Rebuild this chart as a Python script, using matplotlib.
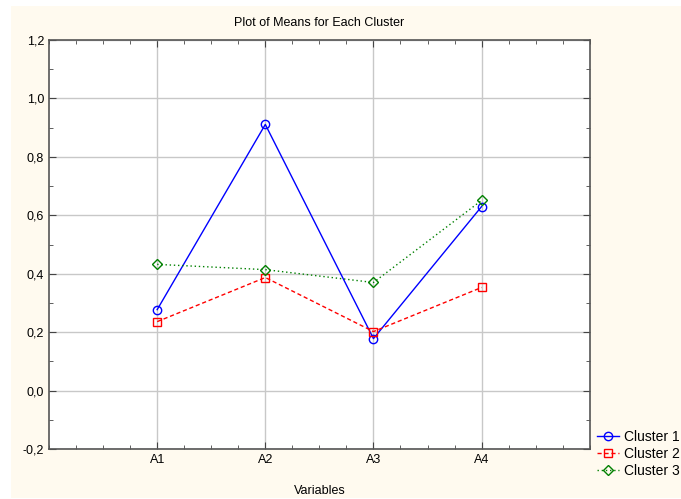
import numpy as np
import matplotlib.pyplot as plt
from matplotlib.patches import Rectangle
from matplotlib.ticker import MultipleLocator, FuncFormatter

plt.rcParams['font.family'] = ['Liberation Sans', 'DejaVu Sans']
plt.rcParams['font.size'] = 9

variables = ['A1', 'A2', 'A3', 'A4']
cluster1 = [0.277, 0.911, 0.178, 0.630]
cluster2 = [0.236, 0.387, 0.202, 0.353]
cluster3 = [0.432, 0.414, 0.370, 0.651]

bg = '#FFFAEF'
W, H = 681, 499
fig = plt.figure(figsize=(W / 100, H / 100), dpi=100, facecolor='white')
# cream panel with thin white margin on the left/top
fig.patches.append(Rectangle((11 / W, 1 / H), 1 - 11 / W, (H - 7) / H,
                             transform=fig.transFigure, facecolor=bg, edgecolor='none', zorder=-10))

ax = fig.add_axes([0.072, 0.1002, 0.794, 0.8196])
ax.set_facecolor('white')

x = np.arange(1, len(variables) + 1)
ax.plot(x, cluster1, color='#0000FF', lw=1, marker='o', ms=6, mfc='none', mec='#0000FF', label='Cluster 1')
ax.plot(x, cluster2, color='#FF0000', lw=1, ls=(0, (3, 2)), marker='s', ms=6, mfc='none', mec='#FF0000', label='Cluster 2')
ax.plot(x, cluster3, color='#008000', lw=1, ls=(0, (1, 2)), marker='D', ms=5, mfc='none', mec='#008000', label='Cluster 3')

ax.set_xlim(0, 5)
ax.set_ylim(-0.2, 1.2)
ax.set_xticks(x)
ax.set_xticklabels(variables)
ax.xaxis.set_minor_locator(MultipleLocator(0.25))
ax.yaxis.set_major_locator(MultipleLocator(0.2))
ax.yaxis.set_minor_locator(MultipleLocator(0.1))
ax.yaxis.set_major_formatter(FuncFormatter(lambda v, p: ('%.1f' % v).replace('.', ',')))
ax.grid(True, which='major', color='#C8C8C8', lw=1)
ax.set_axisbelow(True)
ax.tick_params(which='both', direction='in', top=True, right=True, labelsize=9, color='#444444')
ax.tick_params(which='major', length=5)
ax.tick_params(which='minor', length=3)
for s in ax.spines.values():
    s.set_color('#555555')
    s.set_linewidth(1.2)

ax.set_title('Plot of Means for Each Cluster', fontsize=9, pad=10)
ax.set_xlabel('Variables', fontsize=9, labelpad=14)

leg = ax.legend(loc='center left', bbox_to_anchor=(1.013, -0.012), frameon=False, fontsize=10,
                handlelength=1.6, handletextpad=0.35, labelspacing=0.22,
                borderaxespad=0, borderpad=0)

fig.savefig('out.png', dpi=100, facecolor='white')
